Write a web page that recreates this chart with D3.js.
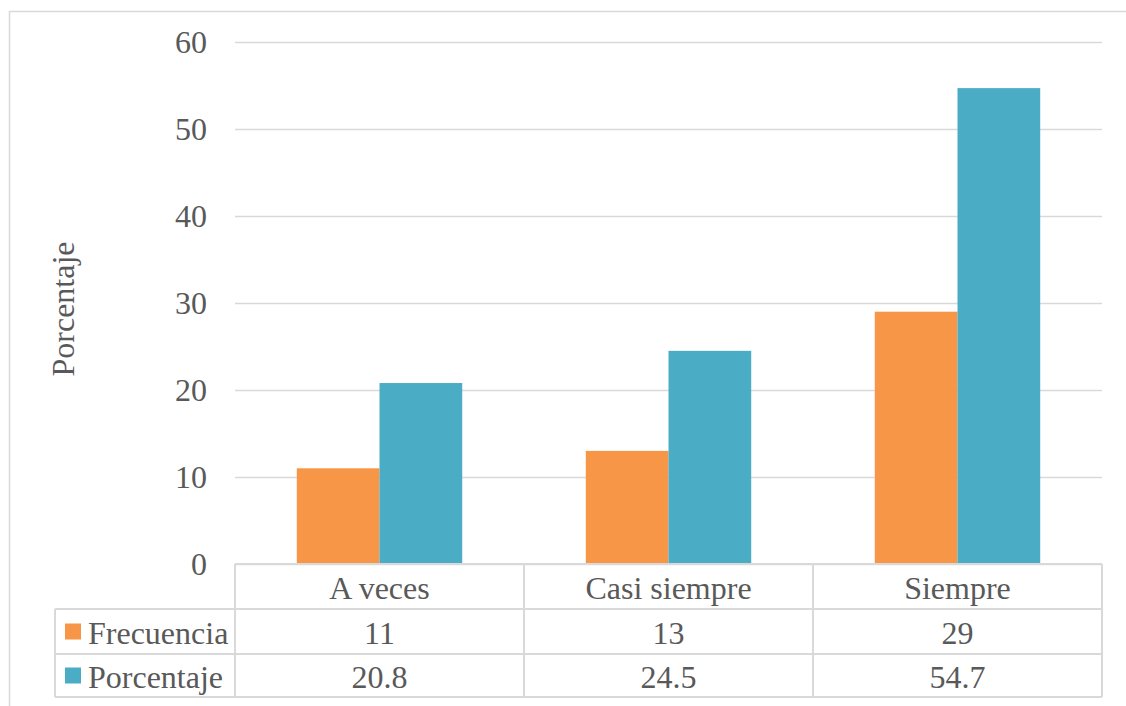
<!DOCTYPE html>
<html>
<head>
<meta charset="utf-8">
<script src="https://cdn.jsdelivr.net/npm/d3@7"></script>
<style>
  html, body { margin: 0; padding: 0; background: #ffffff; }
  svg { display: block; }
  text { font-family: "Liberation Serif", "Times New Roman", serif; fill: #595959; }
</style>
</head>
<body>
<svg id="chart" width="1126" height="706"></svg>
<script>
const categories = ["A veces", "Casi siempre", "Siempre"];
const seriesNames = ["Frecuencia", "Porcentaje"];
const frecuencia = [11, 13, 29];
const porcentaje = [20.8, 24.5, 54.7];
const yTicks = [0, 10, 20, 30, 40, 50, 60];
const colors = ["#F79646", "#4BACC6"];
const valueLabels = [["11", "13", "29"], ["20.8", "24.5", "54.7"]];

(function () {
const svg = d3.select("#chart");
const plotLeft = 235, plotRight = 1102, plotTop = 42, plotBottom = 564;
const rowLines = [564, 609, 654, 697];
const legendLeft = 55;
const fontSize = 32;
const grid = "#d9d9d9";

// outer chart border
svg.append("rect")
  .attr("x", 9.5).attr("y", 11.5)
  .attr("width", 1140).attr("height", 720)
  .attr("fill", "none").attr("stroke", grid).attr("stroke-width", 1.5);

const x0 = d3.scaleBand().domain(categories).range([plotLeft, plotRight]).padding(0);
const x1 = d3.scaleBand().domain(seriesNames).range([0, x0.bandwidth()])
  .paddingInner(0).paddingOuter(0.747);
const y = d3.scaleLinear().domain([0, 60]).range([plotBottom, plotTop]);

// y axis with gridlines
const yAxis = d3.axisLeft(y).tickValues(yTicks)
  .tickSize(-(plotRight - plotLeft)).tickPadding(28).tickFormat(d3.format("d"));
const gy = svg.append("g").attr("transform", `translate(${plotLeft},0)`).call(yAxis);
gy.select(".domain").remove();
gy.selectAll(".tick line").attr("stroke", grid).attr("stroke-width", 1.5);
gy.selectAll(".tick text").attr("font-size", fontSize)
  .attr("font-family", "Liberation Serif").attr("fill", "#595959");

// y axis title
svg.append("text")
  .attr("transform", `translate(63,${(plotTop + plotBottom) / 2 + 6}) rotate(-90)`)
  .attr("text-anchor", "middle").attr("dominant-baseline", "central")
  .attr("font-size", fontSize)
  .text("Porcentaje");

// bars
const seriesData = [frecuencia, porcentaje];
seriesData.forEach((vals, si) => {
  svg.append("g").selectAll("rect")
    .data(vals)
    .join("rect")
    .attr("x", (d, i) => x0(categories[i]) + x1(seriesNames[si]))
    .attr("y", d => y(d))
    .attr("width", x1.bandwidth())
    .attr("height", d => y(0) - y(d))
    .attr("fill", colors[si]);
});

// data table
const tg = svg.append("g");
tg.append("line").attr("x1", plotLeft).attr("x2", plotRight)
  .attr("y1", rowLines[0]).attr("y2", rowLines[0]);
rowLines.slice(1).forEach(yy => {
  tg.append("line").attr("x1", legendLeft).attr("x2", plotRight)
    .attr("y1", yy).attr("y2", yy);
});
const colEdges = categories.map(c => x0(c)).concat([plotRight]);
colEdges.forEach(xx => {
  tg.append("line").attr("x1", xx).attr("x2", xx)
    .attr("y1", rowLines[0]).attr("y2", rowLines[3]);
});
tg.append("line").attr("x1", legendLeft).attr("x2", legendLeft)
  .attr("y1", rowLines[1]).attr("y2", rowLines[3]);
tg.selectAll("line").attr("stroke", grid).attr("stroke-width", 2);

// header row
svg.append("g").selectAll("text")
  .data(categories)
  .join("text")
  .attr("x", d => x0(d) + x0.bandwidth() / 2)
  .attr("y", (rowLines[0] + rowLines[1]) / 2 + 1)
  .attr("text-anchor", "middle").attr("dominant-baseline", "central")
  .attr("font-size", fontSize)
  .text(d => d);

// series rows
seriesNames.forEach((name, si) => {
  const cy = (rowLines[si + 1] + rowLines[si + 2]) / 2;
  svg.append("rect")
    .attr("x", 65).attr("y", cy - 8)
    .attr("width", 16).attr("height", 16)
    .attr("fill", colors[si]);
  svg.append("text")
    .attr("x", 88).attr("y", cy + 1)
    .attr("dominant-baseline", "central")
    .attr("font-size", fontSize)
    .text(name);
  svg.append("g").selectAll("text")
    .data(valueLabels[si])
    .join("text")
    .attr("x", (d, i) => x0(categories[i]) + x0.bandwidth() / 2)
    .attr("y", cy + 1)
    .attr("text-anchor", "middle").attr("dominant-baseline", "central")
    .attr("font-size", fontSize)
    .text(d => d);
});
})();
</script>
</body>
</html>
